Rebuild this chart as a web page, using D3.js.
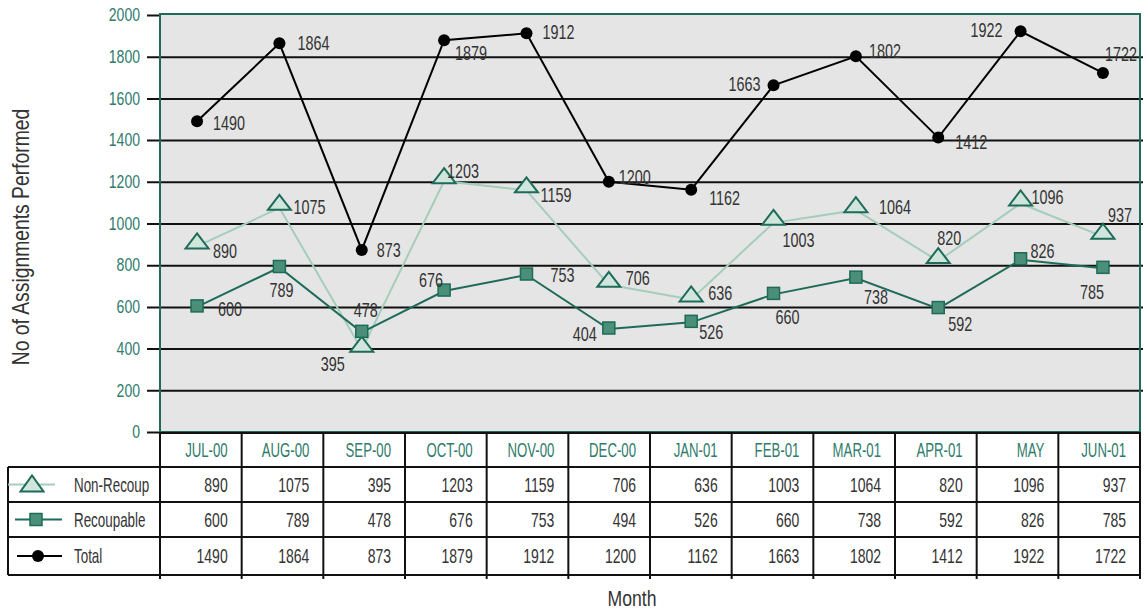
<!DOCTYPE html>
<html lang="en">
<head>
    <meta charset="UTF-8">
    <title>Assignments Performed by Month</title>
    <script src="https://d3js.org/d3.v7.min.js"></script>
    <style>
        body { margin: 0; background: #fff; }
        svg text { font-family: "Liberation Sans", Arial, sans-serif; }
    </style>
</head>
<body>
    <div id="chart"></div>

    <script>
        // data
        var months = ["JUL-00", "AUG-00", "SEP-00", "OCT-00", "NOV-00", "DEC-00",
                      "JAN-01", "FEB-01", "MAR-01", "APR-01", "MAY", "JUN-01"];
        var nonRecoup = [890, 1075, 395, 1203, 1159, 706, 636, 1003, 1064, 820, 1096, 937];
        var recoupable = [600, 789, 478, 676, 753, 494, 526, 660, 738, 592, 826, 785];
        var total = [1490, 1864, 873, 1879, 1912, 1200, 1162, 1663, 1802, 1412, 1922, 1722];
        // the chart's own point label for DEC-00 recoupable reads 404
        var recoupPointLabels = ["600", "789", "478", "676", "753", "404", "526", "660", "738", "592", "826", "785"];
        var yTicks = [0, 200, 400, 600, 800, 1000, 1200, 1400, 1600, 1800, 2000];

        // label placement per point: [dx, dy, anchor]
        var totalLabelPos = [[16, 9, "start"], [18, 7, "start"], [15, 7, "start"], [11, 20, "start"],
                             [16, 6, "start"], [10, 2, "start"], [18, 15, "start"], [-13, 6, "end"],
                             [13, 2, "start"], [17, 11, "start"], [-18, 6, "end"], [2, -12, "start"]];
        var nonLabelPos = [[16, 12, "start"], [14, 6, "start"], [-17, 21, "end"], [3, -3, "start"],
                           [14, 12, "start"], [17, 0, "start"], [17, 1, "start"], [9, 24, "start"],
                           [23, 4, "start"], [-1, -16, "start"], [11, 1, "start"], [5, -15, "start"]];
        var recLabelPos = [[21, 9, "start"], [2, 30, "middle"], [4, -15, "middle"], [-1, -4, "end"],
                           [24, 7, "start"], [-12, 12, "end"], [8, 17, "start"], [2, 30, "start"],
                           [8, 26, "start"], [10, 22, "start"], [10, -2, "start"], [1, 31, "end"]];

        var w = 1145;
        var h = 612;
        var plotLeft = 160, plotRight = 1140, plotTop = 14, plotBottom = 432;
        var rowTops = [432, 467, 502, 537, 575];
        var teal = "#1d6b58";
        var tickTeal = "#2f7c6b";
        var textGrey = "#333";
        var fs = "20px";

        var svg = d3.select("#chart").append("svg")
            .attr("width", w)
            .attr("height", h);

        var xScale = d3.scalePoint()
            .domain(months)
            .range([plotLeft, plotRight])
            .padding(0.45);

        var colScale = d3.scaleBand()
            .domain(months)
            .range([plotLeft, plotRight]);

        var yScale = d3.scaleLinear()
            .domain([0, 2000])
            .range([plotBottom, 15]);

        // plot background
        svg.append("rect")
            .attr("x", plotLeft)
            .attr("y", plotTop)
            .attr("width", plotRight - plotLeft)
            .attr("height", plotBottom - plotTop)
            .attr("fill", "#e5e5e5");

        // gridlines + tick labels
        var yAxis = d3.axisLeft(yScale)
            .tickValues(yTicks)
            .tickFormat(d3.format("d"))
            .tickSizeInner(-(1143 - 147))
            .tickSizeOuter(0)
            .tickPadding(7);

        var gy = svg.append("g")
            .attr("transform", "translate(147,0)")
            .call(yAxis);
        gy.select(".domain").remove();
        gy.selectAll(".tick line")
            .attr("stroke", "#111")
            .attr("stroke-width", 2);
        gy.selectAll(".tick text")
            .attr("fill", tickTeal)
            .attr("data-sq", 0.78)
            .style("font-size", "18px");
        // 0 and 2000 only have short tick marks
        gy.selectAll(".tick").filter(function(d) { return d === 0 || d === 2000; })
            .select("line")
            .attr("x2", plotLeft - 147);

        // plot border
        svg.append("rect")
            .attr("x", plotLeft)
            .attr("y", plotTop)
            .attr("width", plotRight - plotLeft)
            .attr("height", plotBottom - plotTop)
            .attr("fill", "none")
            .attr("stroke", teal)
            .attr("stroke-width", 2);

        // series lines
        var line = d3.line()
            .x(function(d, i) { return xScale(months[i]); })
            .y(function(d) { return yScale(d); });

        svg.append("path").datum(nonRecoup)
            .attr("d", line)
            .attr("fill", "none")
            .attr("stroke", "#a5cdbb")
            .attr("stroke-width", 2);

        svg.append("path").datum(recoupable)
            .attr("d", line)
            .attr("fill", "none")
            .attr("stroke", teal)
            .attr("stroke-width", 2);

        svg.append("path").datum(total)
            .attr("d", line)
            .attr("fill", "none")
            .attr("stroke", "#000")
            .attr("stroke-width", 2);

        var triPath = "M-11.5,2L11.5,2L0,-13Z";

        // markers
        svg.selectAll(".tri")
            .data(nonRecoup)
            .enter()
            .append("path")
            .attr("class", "tri")
            .attr("d", triPath)
            .attr("transform", function(d, i) {
                return "translate(" + xScale(months[i]) + "," + yScale(d) + ")";
            })
            .attr("fill", "#d0e6dc")
            .attr("stroke", teal)
            .attr("stroke-width", 2);

        svg.selectAll(".sq")
            .data(recoupable)
            .enter()
            .append("rect")
            .attr("class", "sq")
            .attr("x", function(d, i) { return xScale(months[i]) - 6; })
            .attr("y", function(d) { return yScale(d) - 7; })
            .attr("width", 12)
            .attr("height", 12)
            .attr("fill", "#4b8f78")
            .attr("stroke", teal)
            .attr("stroke-width", 1.5);

        svg.selectAll(".dot")
            .data(total)
            .enter()
            .append("circle")
            .attr("class", "dot")
            .attr("cx", function(d, i) { return xScale(months[i]); })
            .attr("cy", function(d) { return yScale(d); })
            .attr("r", 6)
            .attr("fill", "#000");

        // point labels
        function addLabels(values, texts, pos) {
            svg.append("g").selectAll("text")
                .data(values)
                .enter()
                .append("text")
                .attr("x", function(d, i) { return xScale(months[i]) + pos[i][0]; })
                .attr("y", function(d, i) { return yScale(d) + pos[i][1]; })
                .attr("text-anchor", function(d, i) { return pos[i][2]; })
                .attr("fill", textGrey)
                .attr("data-sq", 0.72)
                .style("font-size", fs)
                .text(function(d, i) { return texts[i]; });
        }
        addLabels(total, total.map(String), totalLabelPos);
        addLabels(nonRecoup, nonRecoup.map(String), nonLabelPos);
        addLabels(recoupable, recoupPointLabels, recLabelPos);

        // data table
        var table = svg.append("g");
        var lineColor = "#111";

        // horizontal rules
        rowTops.slice(1).forEach(function(yy) {
            table.append("line")
                .attr("x1", 8).attr("x2", plotRight)
                .attr("y1", yy).attr("y2", yy)
                .attr("stroke", lineColor).attr("stroke-width", 2);
        });
        table.append("line")
            .attr("x1", plotLeft).attr("x2", plotRight)
            .attr("y1", rowTops[0] + 1).attr("y2", rowTops[0] + 1)
            .attr("stroke", lineColor).attr("stroke-width", 2);

        // vertical rules
        var colEdges = months.map(function(m) { return colScale(m); }).concat([plotRight]);
        colEdges.forEach(function(xx) {
            table.append("line")
                .attr("x1", xx).attr("x2", xx)
                .attr("y1", rowTops[0]).attr("y2", rowTops[4] + 4)
                .attr("stroke", lineColor).attr("stroke-width", 2);
        });
        table.append("line")
            .attr("x1", 8).attr("x2", 8)
            .attr("y1", rowTops[1]).attr("y2", rowTops[4])
            .attr("stroke", lineColor).attr("stroke-width", 2);

        // header labels
        table.selectAll(".hdr")
            .data(months)
            .enter()
            .append("text")
            .attr("class", "hdr")
            .attr("x", function(d) { return colScale(d) + colScale.bandwidth() - 14; })
            .attr("y", (rowTops[0] + rowTops[1]) / 2 + 7)
            .attr("text-anchor", "end")
            .attr("fill", tickTeal)
            .attr("data-sq", 0.66)
            .style("font-size", fs)
            .text(function(d) { return d; });

        var rows = [nonRecoup, recoupable, total];
        var rowNames = ["Non-Recoup", "Recoupable", "Total"];

        rows.forEach(function(vals, r) {
            var cy = (rowTops[r + 1] + rowTops[r + 2]) / 2;
            table.append("g").selectAll("text")
                .data(vals)
                .enter()
                .append("text")
                .attr("x", function(d, i) { return colScale(months[i]) + colScale.bandwidth() - 14; })
                .attr("y", cy + 7)
                .attr("text-anchor", "end")
                .attr("fill", textGrey)
                .attr("data-sq", 0.7)
                .style("font-size", fs)
                .text(function(d) { return d; });

            table.append("text")
                .attr("x", 74)
                .attr("y", cy + 7)
                .attr("fill", textGrey)
                .attr("data-sq", 0.67)
                .style("font-size", fs)
                .text(rowNames[r]);
        });

        // legend keys
        var ly = rowTops.slice(1, 4).map(function(t, i) { return (t + rowTops[i + 2]) / 2; });

        table.append("line")
            .attr("x1", 8).attr("x2", 55).attr("y1", ly[0]).attr("y2", ly[0])
            .attr("stroke", "#a5cdbb").attr("stroke-width", 2);
        table.append("path")
            .attr("d", "M-11.5,7L11.5,7L0,-9Z")
            .attr("transform", "translate(32," + ly[0] + ")")
            .attr("fill", "#d0e6dc").attr("stroke", teal).attr("stroke-width", 2);

        table.append("line")
            .attr("x1", 15).attr("x2", 62).attr("y1", ly[1]).attr("y2", ly[1])
            .attr("stroke", teal).attr("stroke-width", 2);
        table.append("rect")
            .attr("x", 30).attr("y", ly[1] - 6).attr("width", 12).attr("height", 12)
            .attr("fill", "#4b8f78").attr("stroke", teal).attr("stroke-width", 1.5);

        table.append("line")
            .attr("x1", 17).attr("x2", 62).attr("y1", ly[2]).attr("y2", ly[2])
            .attr("stroke", "#000").attr("stroke-width", 2);
        table.append("circle")
            .attr("cx", 38).attr("cy", ly[2]).attr("r", 6).attr("fill", "#000");

        // squeeze the texts horizontally for a condensed look
        svg.selectAll("text").each(function() {
            var t = d3.select(this);
            var x = +t.attr("x") || 0, y = +t.attr("y") || 0;
            var k = t.attr("data-sq") || 0.72;
            t.attr("x", null).attr("y", null)
                .attr("transform", "translate(" + x + "," + y + ") scale(" + k + ",1)");
        });

        // axis titles
        svg.append("text")
            .attr("transform", "translate(29,237) rotate(-90) scale(0.84,1)")
            .attr("text-anchor", "middle")
            .attr("fill", textGrey)
            .style("font-size", "23px")
            .text("No of Assignments Performed");

        svg.append("text")
            .attr("transform", "translate(632,606) scale(0.8,1)")
            .attr("text-anchor", "middle")
            .attr("fill", textGrey)
            .style("font-size", "22px")
            .text("Month");
    </script>
</body>
</html>
